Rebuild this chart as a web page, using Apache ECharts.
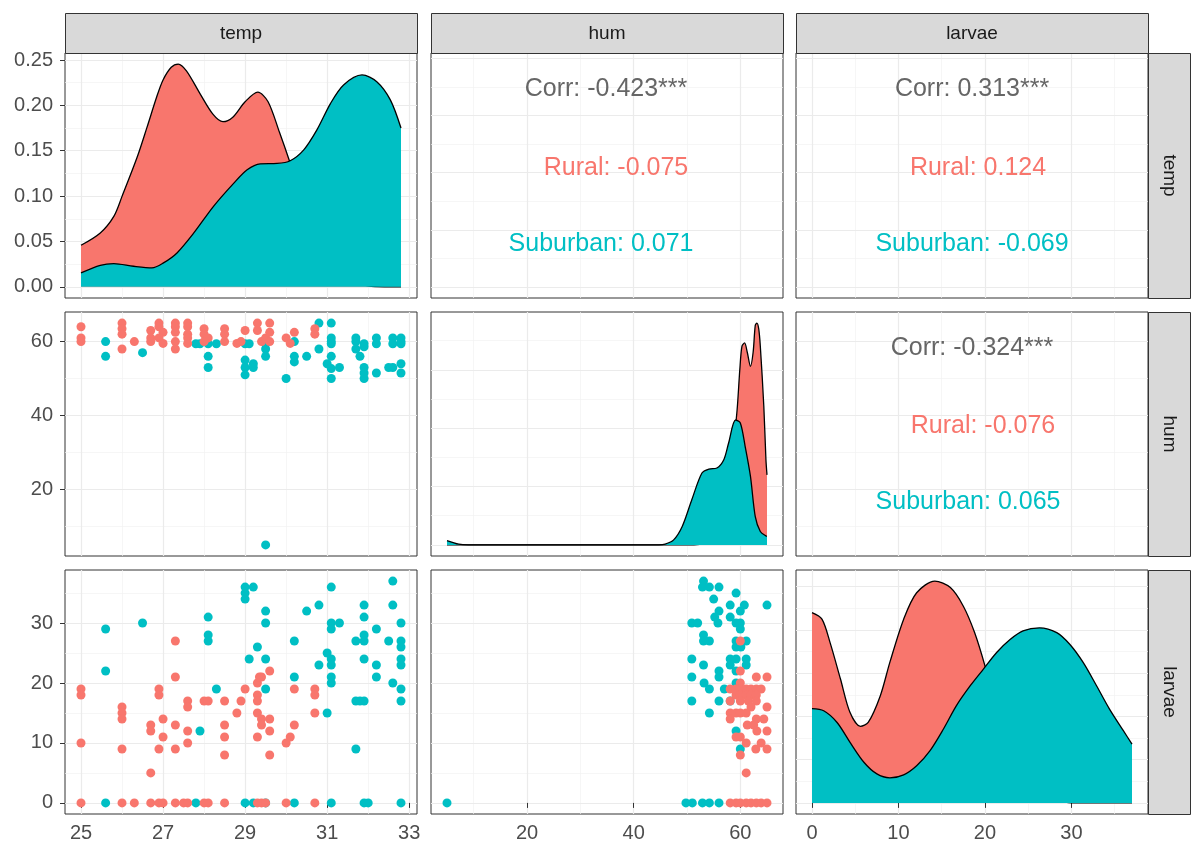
<!DOCTYPE html>
<html><head><meta charset="utf-8">
<script src="https://cdn.jsdelivr.net/npm/echarts@6/dist/echarts.min.js"></script>
<style>html,body{margin:0;padding:0;background:#fff}#c{width:1203px;height:860px}</style>
</head><body><div id="c"></div>
<script>
// ---------------- DATA ----------------
const variables = ['temp', 'hum', 'larvae'];
const groups = ['Rural', 'Suburban'];
const groupColors = ['#F8766D', '#00BFC4'];

// tick labels / axis breaks
const tempMajor = [25, 27, 29, 31, 33];
const tempMinor = [26, 28, 30, 32];
const humMajor = [20, 40, 60];
const humMinor = [10, 30, 50];
const larvaeMajor = [0, 10, 20, 30];
const larvaeMinor = [5, 15, 25, 35];
const densTempMajor = [0, 0.05, 0.10, 0.15, 0.20, 0.25];
const densTempMinor = [0.025, 0.075, 0.125, 0.175, 0.225];
const densHumMajor = [0, 0.05, 0.10, 0.15];
const densHumMinor = [0.025, 0.075, 0.125, 0.175];
const densLarvaeMajor = [0, 0.01, 0.02, 0.03, 0.04, 0.05];
const densLarvaeMinor = [0.005, 0.015, 0.025, 0.035, 0.045];

// scatter: temp (x) vs hum (y)
const tempHumRural = [[25,64],[25,61],[25,60],[26,65],[26,63.5],[26,62],[26,58],[26.3,60],
  [26.7,63],[26.7,61],[26.7,60],[26.9,65],[26.9,64],[27,62.5],[26.9,61],[27,59.5],
  [27.3,65],[27.3,64],[27.3,62.5],[27.3,60],[27.3,58],[27.6,65],[27.6,64],[27.6,62],[27.6,61],[27.6,59.5],
  [28,63.5],[28,62],[28.1,61],[28,60],[28.5,63.5],[28.5,62],[28.5,60],[28.8,59.5],[28.9,60],[29,63],
  [29.3,65],[29.3,63],[29.4,60],[29.5,61],[29.6,65],[29.6,62.5],[29.6,60],[30,61],[30.1,59.5],[30.2,62.5],
  [30.7,63.5],[30.7,62]];
const tempHumSuburban = [[25.6,60],[25.6,56],[26.5,57],[27.8,59.4],[27.9,59.4],[28.1,59.4],[28.1,56],[28.1,53],[28.3,59.4],
  [29,59.4],[29.1,59.4],[29,55],[29,53],[29,51],[29.2,54],[29.2,53],[29.5,59.4],[29.5,58],[29.5,56],[29.5,5],
  [30,50],[30.2,60],[30.2,56],[30.2,54.5],[30.5,56],[30.8,65],[30.8,58],
  [31.1,65],[31.1,61],[31.1,60],[31.1,59.4],[31.1,56],[31,54],[31.1,52.7],[31.1,50],[31.3,53],
  [31.7,61],[31.7,60],[31.7,58],[31.9,59.4],[31.9,58.6],[31.8,56],[31.9,53],[31.9,51.5],[31.9,50],[32.2,51.5],
  [32.2,61],[32.2,59.4],[32.5,53],[32.6,53],[32.6,61],[32.6,59.4],[32.8,61],[32.8,60],[32.8,59.4],[32.8,54],[32.8,51.5]];

// scatter: temp (x) vs larvae (y)
const tempLarvaeRural = [[25,19],[25,18],[25,10],[25,0],[26,16],[26,15],[26,14],[26,9],[26,0],[26.3,0],
  [26.7,13],[26.7,12],[26.7,5],[26.7,0],[26.9,19],[26.9,18],[26.9,9],[26.9,0],[27,14],[27,11],[27,0],
  [27.3,27],[27.3,21],[27.3,13],[27.3,9],[27.3,0],[27.6,17],[27.6,16],[27.6,12],[27.6,10],[27.5,0],[27.6,0],
  [28,17],[28.1,17],[28,0],[28.1,0],[28.5,17],[28.5,13],[28.5,11],[28.5,8],[28.5,0],[28.8,15],[28.9,17],[29,19],
  [29.3,20],[29.35,21],[29.4,21],[29.6,22],[29.3,18],[29.3,17],[29.3,15],[29.4,14],[29.4,13],[29.3,11],
  [29.6,14],[29.6,12],[29.6,8],[29.3,0],[29.4,0],[29.5,0],[30,10],[30.1,11],[30.2,19],[30.2,13],[30,0],
  [30.7,19],[30.7,18],[30.7,15],[30.7,0]];
const tempLarvaeSuburban = [[25.6,29],[25.6,22],[25.6,0],[26.5,30],[27.8,0],[27.9,12],[28.1,31],[28.1,28],[28.1,27],[28.3,19],
  [29,36],[29.2,36],[29,35],[29,34],[29.1,24],[29.3,26],[29,0],[29.2,0],[29.5,32],[29.5,30],[29.5,24],[29.5,19],[29.5,0],
  [30.2,27],[30.2,21],[30.2,0],[30.5,32],[30.8,33],[30.8,23],[31,25],[31,15],
  [31.1,36],[31.1,30],[31.1,29],[31.1,24],[31.1,23],[31.1,21],[31.1,20],[31.1,0],[31.3,30],
  [31.7,27],[31.7,17],[31.7,9],[31.8,17],[31.9,33],[31.9,31],[31.9,28],[31.9,27],[31.9,24],[31.9,17],[31.9,0],[32,0],
  [32.2,29],[32.2,23],[32.2,21],[32.5,27],[32.6,37],[32.6,33],[32.6,20],
  [32.8,30],[32.8,27],[32.8,26],[32.8,24],[32.8,23],[32.8,19],[32.8,17],[32.8,0]];

// scatter: hum (x) vs larvae (y)
const humLarvaeRural = [[60,27],[60,22],[60,20],[63,21],[65,21],[58.1,19],[59.2,19],[60,19],[61.1,19],[62,19],[63,19],[63.9,19],
  [59.2,18],[60,18],[61.1,18],[62,18],[63,18],[58.1,17],[60,17],[61.5,17],[63,17],[62,16],[65,16],
  [58.1,15],[59.2,15],[60,15],[61.1,15],[63,14],[64.4,14],[58.1,14],[61.3,13],[62.5,13],[63.1,12],[65,12],
  [59.2,11],[60,11],[61.1,10],[63.9,10],[62.9,9],[65,9],[60,8],[61.1,5],
  [58.1,0],[59.2,0],[60,0],[61.1,0],[62,0],[63,0],[63.9,0],[65,0]];
const humLarvaeSuburban = [[5,0],[49.8,0],[51,0],[52.9,0],[54.2,0],[56,0],[53.1,37],[52.9,36],[54.2,36],[56,36],
  [59.2,35],[55,34],[58.1,33],[60.75,33],[65,33],[56,32],[60,32],[50.9,30],[52,30],[55.2,31],[55.8,30],[58.1,31],
  [59.2,30],[60,30],[60,29],[53.1,28],[53.1,27],[54.2,27],[59.2,27],[61.1,27],[59.2,26],[60.1,26],
  [50.9,24],[58.1,24],[59.2,24],[61.1,24],[53.1,23],[58.1,23],[61.1,23],[56,22],[59.2,22],
  [50.9,21],[56,21],[53.2,20],[59.2,20],[54.2,19],[57,19],[59.2,19],[50.9,17],[56,17],[58.1,17],[54.2,15],
  [59.2,12],[60,9]];

// density curves [x, density]
const tempDensRural = [[25,0.0458],[25.47,0.0594],[25.8,0.0777],[26,0.0997],[26.37,0.143],[26.61,0.176],[26.85,0.21],
  [27,0.228],[27.2,0.242],[27.37,0.2455],[27.57,0.238],[27.9,0.213],[28.22,0.19],[28.46,0.182],[28.7,0.187],[29,0.204],
  [29.31,0.2145],[29.56,0.204],[29.84,0.17],[30.08,0.139],[30.4,0.095],[30.8,0.05],[31.2,0.02],[31.6,0.006],[32,0.001],[32.4,0],[32.8,0]];
const tempDensSuburban = [[25,0.0154],[25.47,0.0238],[25.8,0.0257],[26.28,0.0227],[26.73,0.0209],[27.01,0.0264],[27.34,0.0374],
  [27.75,0.0594],[28.23,0.0887],[28.72,0.114],[29.05,0.129],[29.37,0.1356],[29.78,0.136],[30.1,0.139],[30.43,0.151],
  [30.75,0.173],[31.08,0.202],[31.4,0.2225],[31.85,0.2335],[32.21,0.226],[32.54,0.206],[32.8,0.175]];
const humDensRural = [[5,0],[20,0],[40,0],[50,0],[54,0.002],[56,0.01],[57.5,0.035],[58.5,0.075],[59.4,0.116],[59.9,0.15],
  [60.3,0.17],[60.8,0.173],[61.3,0.165],[61.9,0.153],[62.4,0.165],[62.8,0.188],[63.1,0.19],[63.45,0.185],[63.75,0.17],
  [64.4,0.119],[64.8,0.073],[65,0.06]];
const humDensSuburban = [[5,0.0037],[7.2,0.0006],[9,0],[20,0],[30,0],[40,0],[44.7,0],[45.9,0.0006],[47.5,0.0043],[49.1,0.0158],
  [50.9,0.0387],[52.8,0.0616],[54.1,0.065],[55.6,0.0659],[56.9,0.073],[57.8,0.0873],[59.1,0.107],[60,0.1045],
  [60.9,0.0845],[61.9,0.0587],[62.8,0.0243],[63.75,0.0115],[64.8,0.0077],[65,0.0075]];
const larvaeDensRural = [[0,0.044],[1.15,0.0425],[2.1,0.037],[3.3,0.0286],[4.4,0.0209],[5.6,0.0177],[6.5,0.0186],[7.9,0.0248],
  [9,0.0325],[10.6,0.0425],[12.1,0.0486],[14.2,0.0513],[16,0.0498],[17.5,0.0455],[18.8,0.0394],[20,0.0317],[21,0.024],
  [22,0.017],[24,0.008],[26,0.003],[28,0.001],[30,0],[37,0]];
const larvaeDensSuburban = [[0,0.0218],[1.35,0.0213],[2.9,0.0186],[4.4,0.014],[6,0.0094],[7.5,0.0067],[9,0.0058],[10.6,0.0065],
  [12.1,0.0086],[13.65,0.0121],[15.2,0.0171],[16.7,0.0225],[18.3,0.0271],[19.8,0.0309],[21.35,0.0348],[22.9,0.0378],
  [24.4,0.0398],[26.3,0.0405],[28.3,0.0394],[29.8,0.0367],[31.35,0.0325],[32.9,0.0271],[34.4,0.0217],[36,0.0167],[37,0.0136]];

// correlation panel texts
const corrTempHum = ['Corr: -0.423***', 'Rural: -0.075', 'Suburban: 0.071'];
const corrTempLarvae = ['Corr: 0.313***', 'Rural: 0.124', 'Suburban: -0.069'];
const corrHumLarvae = ['Corr: -0.324***', 'Rural: -0.076', 'Suburban: 0.065'];

// ---------------- LAYOUT / STYLE ----------------
const FONT = 'Liberation Sans, Arial, Helvetica, sans-serif';
const colX = [65, 431, 796], panelW = 352;
const rowY = [53, 312, 570], rowH = [245, 244, 244];
const stripTop = 13, stripH = 40, stripRW = 42;

const scales = {
  temp:   {min: 24.61, max: 33.19, major: tempMajor, minor: tempMinor, fmt: v => String(v)},
  hum:    {min: 2, max: 68, major: humMajor, minor: humMinor, fmt: v => String(v)},
  larvae: {min: -1.85, max: 38.85, major: larvaeMajor, minor: larvaeMinor, fmt: v => String(v)},
  dtemp:  {min: -0.01227, max: 0.2577, major: densTempMajor, minor: densTempMinor, fmt: v => v.toFixed(2)},
  dhum:   {min: -0.0095, max: 0.1995, major: densHumMajor, minor: densHumMinor, fmt: v => v.toFixed(2)},
  dlarvae:{min: -0.00257, max: 0.05387, major: densLarvaeMajor, minor: densLarvaeMinor, fmt: v => v.toFixed(2)}
};

const grids = [], xAxes = [], yAxes = [], series = [], graphics = [];

function axisPair(list, dim, gi, sc, showLab) {
  const base = {type: 'value', gridIndex: gi, min: sc.min, max: sc.max, scale: true};
  list.push(Object.assign({}, base, {
    axisLine: {show: false},
    axisTick: {show: showLab, length: 5, lineStyle: {color: '#333333', width: 1}, customValues: sc.major},
    axisLabel: {show: showLab, customValues: sc.major, color: '#4D4D4D', fontSize: 20, fontFamily: FONT,
                margin: dim === 'x' ? 9 : 12, formatter: sc.fmt},
    splitLine: {show: true, lineStyle: {color: '#EBEBEB', width: 1.2}},
    z: 1
  }));
  list.push(Object.assign({}, base, {
    axisLine: {show: false},
    axisTick: {show: false, customValues: sc.minor},
    axisLabel: {show: false, customValues: sc.minor},
    splitLine: {show: true, lineStyle: {color: '#F2F2F2', width: 0.7}},
    z: 0
  }));
}

const cellScales = [
  [['temp','dtemp'], ['hum','temp'], ['larvae','temp']],
  [['temp','hum'], ['hum','dhum'], ['larvae','hum']],
  [['temp','larvae'], ['hum','larvae'], ['larvae','dlarvae']]
];

for (let r = 0; r < 3; r++) {
  for (let c = 0; c < 3; c++) {
    const gi = r * 3 + c;
    grids.push({left: colX[c], top: rowY[r], width: panelW, height: rowH[r], show: true,
                borderColor: '#333333', borderWidth: 1, backgroundColor: '#ffffff', containLabel: false});
    const [xs, ys] = cellScales[r][c];
    axisPair(xAxes, 'x', gi, scales[xs], r === 2);
    axisPair(yAxes, 'y', gi, scales[ys], c === 0);
  }
}

function scatter(gi, data, color, name, z) {
  series.push({type: 'scatter', name, xAxisIndex: gi * 2, yAxisIndex: gi * 2, data,
    symbolSize: 9, itemStyle: {color, opacity: 1}, z, silent: true, animation: false});
}
function density(gi, data, color, name, z) {
  series.push({type: 'line', name, xAxisIndex: gi * 2, yAxisIndex: gi * 2, data,
    smooth: 0.3, symbol: 'none', showSymbol: false,
    lineStyle: {color: '#000000', width: 1.3}, areaStyle: {color, opacity: 1, origin: 'auto'},
    z, silent: true, animation: false});
}
function empty(gi) {
  series.push({type: 'scatter', xAxisIndex: gi * 2, yAxisIndex: gi * 2, data: [], silent: true});
}

// diagonal densities (Rural drawn first, Suburban overlaid)
density(0, tempDensRural, groupColors[0], groups[0], 2);
density(0, tempDensSuburban, groupColors[1], groups[1], 3);
density(4, humDensRural, groupColors[0], groups[0], 2);
density(4, humDensSuburban, groupColors[1], groups[1], 3);
density(8, larvaeDensRural, groupColors[0], groups[0], 2);
density(8, larvaeDensSuburban, groupColors[1], groups[1], 3);

// lower scatter panels
scatter(3, tempHumSuburban, groupColors[1], groups[1], 2);
scatter(3, tempHumRural, groupColors[0], groups[0], 3);
scatter(6, tempLarvaeSuburban, groupColors[1], groups[1], 2);
scatter(6, tempLarvaeRural, groupColors[0], groups[0], 3);
scatter(7, humLarvaeSuburban, groupColors[1], groups[1], 2);
scatter(7, humLarvaeRural, groupColors[0], groups[0], 3);

// upper text panels
empty(1); empty(2); empty(5);

// strips
for (let c = 0; c < 3; c++) {
  graphics.push({type: 'rect', shape: {x: colX[c] + 0.5, y: stripTop + 0.5, width: panelW, height: stripH},
    style: {fill: '#D9D9D9', stroke: '#333333', lineWidth: 1}, z: 10});
  graphics.push({type: 'text', x: colX[c] + panelW / 2, y: stripTop + stripH / 2 + 1,
    style: {text: variables[c], fill: '#1A1A1A', font: '19px ' + FONT, fontSize: 19, fontFamily: FONT,
            textAlign: 'center', textVerticalAlign: 'middle', align: 'center', verticalAlign: 'middle'}, z: 11});
}
for (let r = 0; r < 3; r++) {
  graphics.push({type: 'rect', shape: {x: colX[2] + panelW + 0.5, y: rowY[r] + 0.5, width: stripRW, height: rowH[r]},
    style: {fill: '#D9D9D9', stroke: '#333333', lineWidth: 1}, z: 10});
  graphics.push({type: 'text', x: colX[2] + panelW + stripRW / 2, y: rowY[r] + rowH[r] / 2, rotation: -Math.PI / 2,
    style: {text: variables[r], fill: '#1A1A1A', font: '19px ' + FONT, fontSize: 19, fontFamily: FONT,
            textAlign: 'center', textVerticalAlign: 'middle', align: 'center', verticalAlign: 'middle'}, z: 11});
}

// correlation texts
const textColors = ['#666666', groupColors[0], groupColors[1]];
const textYFrac = [0.147, 0.468, 0.78];
function corrTexts(r, c, labels, xOffs) {
  labels.forEach((t, i) => {
    graphics.push({type: 'text', x: colX[c] + panelW / 2 + xOffs[i], y: rowY[r] + rowH[r] * textYFrac[i],
      style: {text: t, fill: textColors[i], font: '25px ' + FONT, fontSize: 25, fontFamily: FONT,
              textAlign: 'center', textVerticalAlign: 'middle', align: 'center', verticalAlign: 'middle'}, z: 12});
  });
}
corrTexts(0, 1, corrTempHum, [-1, 9, -6]);
corrTexts(0, 2, corrTempLarvae, [0, 6, 0]);
corrTexts(1, 2, corrHumLarvae, [0, 11, -4]);

const chart = echarts.init(document.getElementById('c'), null, {renderer: 'canvas'});
chart.setOption({
  animation: false,
  backgroundColor: '#ffffff',
  grid: grids, xAxis: xAxes, yAxis: yAxes, series,
  graphic: graphics
});
</script></body></html>
